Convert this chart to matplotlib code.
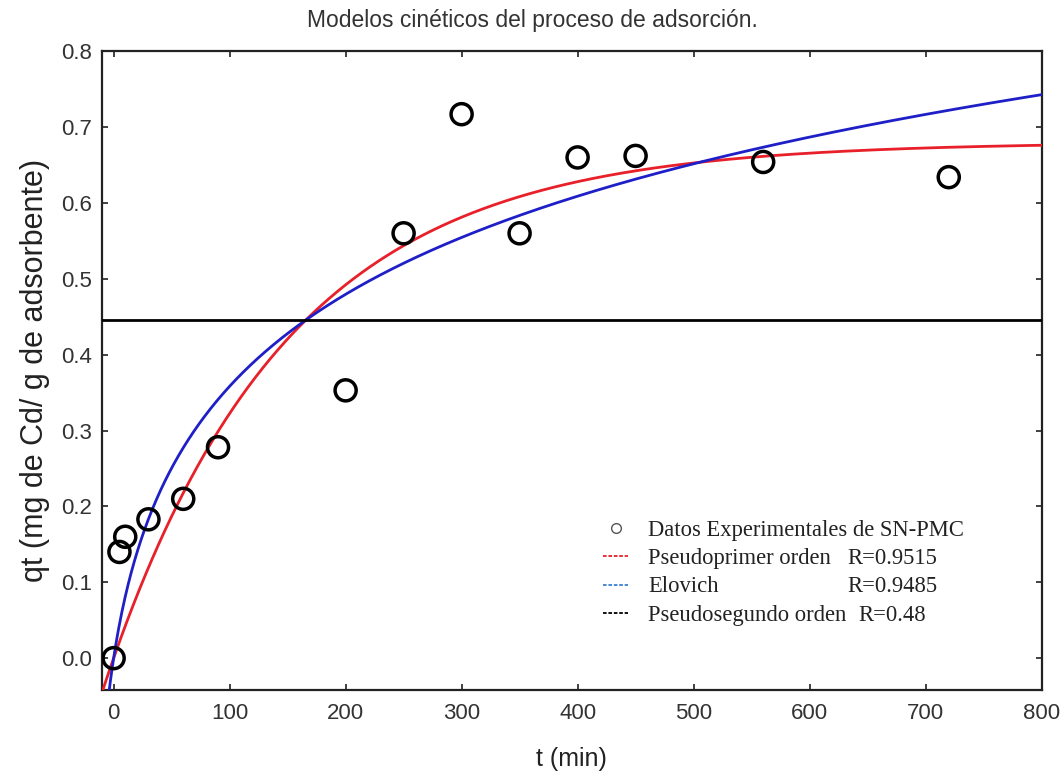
import numpy as np
import matplotlib
matplotlib.use("Agg")
import matplotlib.pyplot as plt
from matplotlib.ticker import FormatStrFormatter
from matplotlib.lines import Line2D

# Experimental data
t_exp = [0, 5, 10, 30, 60, 90, 200, 250, 300, 350, 400, 450, 560, 720]
q_exp = [0.0, 0.14, 0.16, 0.183, 0.21, 0.278, 0.353, 0.56, 0.717, 0.56, 0.66, 0.662, 0.654, 0.634]

# Fitted model parameters
pfo_qe, pfo_k = 0.68, 0.00643          # pseudo-first order
elo_A, elo_B = 0.2, 0.05               # Elovich q = A ln(1 + B t)
pso_level = 0.446                      # pseudo-second order (flat)

labels = ["Datos Experimentales de SN-PMC", "Pseudoprimer orden", "Elovich", "Pseudosegundo orden"]
r_labels = ["", "R=0.9515", "R=0.9485", "R=0.48"]

fig = plt.figure(figsize=(10.64, 7.76), dpi=100)
ax = fig.add_axes([0.0959, 0.1108, 0.8830, 0.8232])

t = np.linspace(-10, 800, 900)
pfo = pfo_qe * (1 - np.exp(-pfo_k * t))
with np.errstate(invalid="ignore", divide="ignore"):
    elo = elo_A * np.log(1 + elo_B * t)

ax.plot(t, pfo, color="#e8202a", lw=2, zorder=3)
ax.plot(t, elo, color="#1f1fc8", lw=2, zorder=3)
ax.axhline(pso_level, color="black", lw=2, zorder=3)
ax.scatter(t_exp, q_exp, s=230, facecolors="none", edgecolors="black", linewidths=2.5, zorder=4)

ax.set_xlim(-10, 800)
ax.set_ylim(-0.042, 0.8)
ax.set_xticks(np.arange(0, 801, 100))
ax.set_yticks(np.arange(0, 0.81, 0.1))
ax.yaxis.set_major_formatter(FormatStrFormatter("%.1f"))
ax.tick_params(direction="in", length=4, width=1.2, top=True, right=True,
               labelsize=16, colors="#222222", labelcolor="#333333")
ax.tick_params(axis="y", pad=7)
ax.tick_params(axis="x", pad=9)
for s in ax.spines.values():
    s.set_linewidth(1.6)
    s.set_color("#222222")
for lab in ax.get_xticklabels() + ax.get_yticklabels():
    lab.set_family("Liberation Sans")

ax.set_xlabel("t (min)", fontsize=18, family="Liberation Sans", color="#222222", labelpad=17)
ax.set_ylabel("qt (mg de Cd/ g de adsorbente)", fontsize=22, family="Liberation Sans",
              color="#222222", labelpad=8)
fig.text(0.5, 0.973, "Modelos cinéticos del proceso de adsorción.", ha="center", va="center",
         fontsize=16.5, family="Liberation Sans", color="#333333")

handles = [
    Line2D([], [], marker="o", ls="none", mfc="none", mec="#555555", ms=7, mew=1),
    Line2D([], [], color="#e8202a", ls=(0, (2, 1)), lw=1.3),
    Line2D([], [], color="#3a7fd0", ls=(0, (2, 1)), lw=1.3),
    Line2D([], [], color="black", ls=(0, (2, 1)), lw=1.3),
]
leg = ax.legend(handles, labels, loc="upper left", bbox_to_anchor=(0.5165, 0.291),
                frameon=False, prop={"family": "Liberation Serif", "size": 16.3},
                handlelength=1.1, handletextpad=0.9, labelspacing=0.32, borderpad=0.2)
for txt in leg.get_texts():
    txt.set_color("#222222")

# R values aligned in a column next to the legend entries
fig.canvas.draw()
inv = ax.transAxes.inverted()
r_x_px = 847
for txt, r in zip(leg.get_texts(), r_labels):
    if not r:
        continue
    bb = txt.get_window_extent()
    yc = 0.5 * (bb.y0 + bb.y1)
    xa, ya = inv.transform((max(r_x_px, bb.x1 + 12), yc))
    ax.text(xa, ya, r, transform=ax.transAxes, ha="left", va="center",
            family="Liberation Serif", fontsize=16.3, color="#222222")

fig.savefig("out.png", dpi=100)
